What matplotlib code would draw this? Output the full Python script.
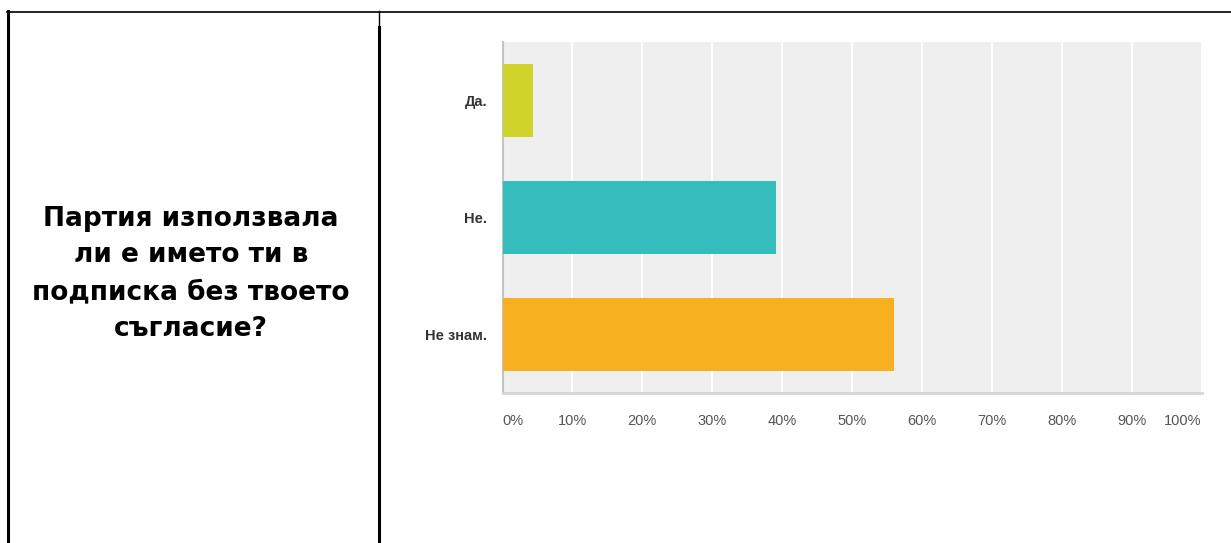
import matplotlib
matplotlib.use('Agg')
import matplotlib.pyplot as plt
from matplotlib.lines import Line2D

# survey answers (percent)
answers = ['Да.', 'Не.', 'Не знам.']
percents = [4.4, 39.1, 56.0]
colors = ['#d0d42a', '#35bdbd', '#f6b020']
xticks = [0, 10, 20, 30, 40, 50, 60, 70, 80, 90, 100]
xtick_labels = ['0%', '10%', '20%', '30%', '40%', '50%', '60%', '70%', '80%', '90%', '100%']
question = 'Партия използвала\nли е името ти в\nподписка без твоето\nсъгласие?'

W, H = 1231, 543
fig = plt.figure(figsize=(W / 100, H / 100), dpi=100)
fig.patch.set_facecolor('white')


def px(x, y):
    return x / W, 1 - y / H


# table borders
def border(x0, y0, x1, y1, lw):
    (a, b), (c, d) = px(x0, y0), px(x1, y1)
    fig.add_artist(Line2D([a, c], [b, d], color='black', lw=lw, transform=fig.transFigure))


border(7, 11.5, W, 11.5, 1.2)
border(7.5, 11, 7.5, H, 2.2)
border(378.5, 11, 378.5, 28, 1.0)
border(379, 27, 379, H, 2.2)

# question text
tx, ty = px(191, 274)
fig.text(tx, ty, question, ha='center', va='center', fontsize=19, fontweight='bold',
         family=['DejaVu Sans'], linespacing=1.55, color='black')

# bar chart
ax = fig.add_axes([502.5 / W, (H - 393) / H, 699 / W, 351 / H])
ax.set_facecolor('#efefef')
ypos = list(range(len(answers)))
ax.barh(ypos, percents, height=0.62, color=colors, edgecolor='none', zorder=3)
ax.set_ylim(len(answers) - 0.5, -0.5)
ax.set_xlim(0, 100)
ax.set_xticks(xticks)
ax.xaxis.grid(True, color='white', lw=1.5, zorder=1)
ax.set_axisbelow(True)
ax.set_xticklabels(xtick_labels, fontsize=10.5, color='#555555', family=['Liberation Sans'])
lbls = ax.get_xticklabels()
lbls[0].set_ha('left')
lbls[-1].set_ha('right')
ax.tick_params(axis='x', length=0, pad=15)
ax.set_yticks(ypos)
ax.set_yticklabels(answers, fontsize=10.5, fontweight='bold', color='#333333', family=['Liberation Sans'])
ax.tick_params(axis='y', length=0, pad=11)
for s in ['top', 'right']:
    ax.spines[s].set_visible(False)
ax.spines['left'].set_color('#c4c4c4')
ax.spines['left'].set_linewidth(1.5)
ax.spines['bottom'].set_color('#d6d6d6')
ax.spines['bottom'].set_linewidth(2)

fig.savefig('out.png', dpi=100)
